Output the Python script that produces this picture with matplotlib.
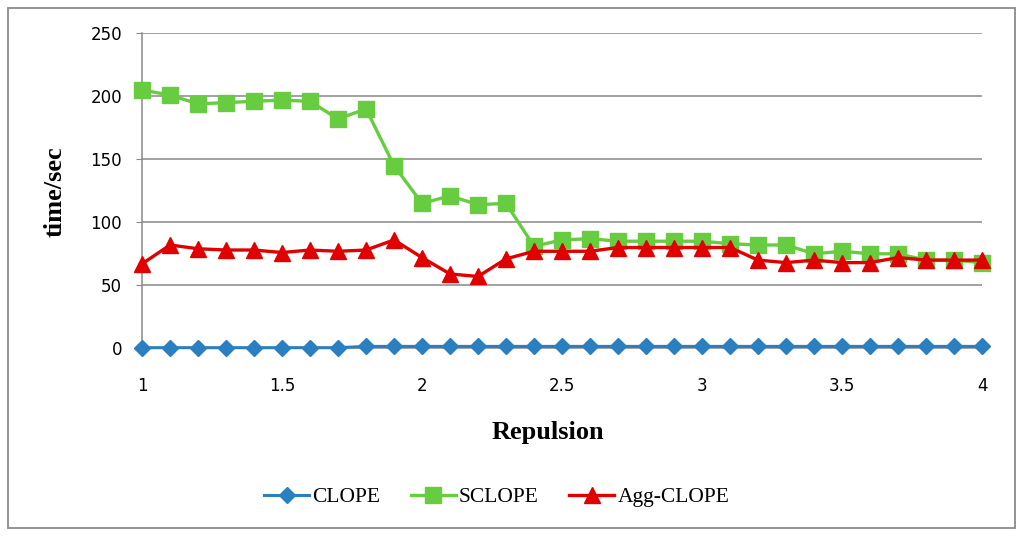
import matplotlib.pyplot as plt
from matplotlib.patches import Rectangle
import numpy as np

# repulsion values 1.0 .. 4.0 step 0.1
repulsion = [1.0, 1.1, 1.2, 1.3, 1.4, 1.5, 1.6, 1.7, 1.8, 1.9,
             2.0, 2.1, 2.2, 2.3, 2.4, 2.5, 2.6, 2.7, 2.8, 2.9,
             3.0, 3.1, 3.2, 3.3, 3.4, 3.5, 3.6, 3.7, 3.8, 3.9, 4.0]
clope = [0.5, 0.5, 0.5, 0.5, 0.5, 0.5, 0.5, 0.5, 1.5, 1.5,
         1.5, 1.5, 1.5, 1.5, 1.5, 1.5, 1.5, 1.5, 1.5, 1.5,
         1.5, 1.5, 1.5, 1.5, 1.5, 1.5, 1.5, 1.5, 1.5, 1.5, 1.5]
sclope = [205, 201, 194, 195, 196, 197, 196, 182, 190, 145,
          115, 121, 114, 115, 81, 86, 87, 85, 85, 85,
          85, 83, 82, 82, 75, 77, 75, 75, 70, 70, 68]
agg_clope = [67, 82, 79, 78, 78, 76, 78, 77, 78, 86,
             72, 59, 57, 71, 77, 77, 77, 80, 80, 80,
             80, 80, 70, 68, 70, 68, 68, 72, 70, 70, 70]

xticks = [1, 1.5, 2, 2.5, 3, 3.5, 4]
xtick_labels = ['1', '1.5', '2', '2.5', '3', '3.5', '4']
yticks = [0, 50, 100, 150, 200, 250]

fig = plt.figure(figsize=(10.24, 5.38), dpi=100)
ax = fig.add_axes([0.1387, 0.3526, 0.8203, 0.5855])

ax.plot(repulsion, clope, color='#2a7fc1', lw=2.2, marker='D', ms=8,
        label='CLOPE', clip_on=False, zorder=3)
ax.plot(repulsion, sclope, color='#68cc40', lw=2.4, marker='s', ms=12,
        label='SCLOPE', clip_on=False, zorder=3)
ax.plot(repulsion, agg_clope, color='#e00000', lw=2.4, marker='^', ms=12,
        label='Agg-CLOPE', clip_on=False, zorder=4)

ax.set_xlim(1, 4)
ax.set_ylim(0, 250)
ax.set_xticks(xticks)
ax.set_xticklabels(xtick_labels)
ax.set_yticks(yticks)
ax.grid(axis='y', color='#888888', lw=1.1)
ax.set_axisbelow(True)

for s in ['top', 'right']:
    ax.spines[s].set_visible(False)
ax.spines['left'].set_color('#888888')
ax.spines['bottom'].set_color('#888888')
ax.spines['left'].set_linewidth(1.1)
ax.spines['bottom'].set_linewidth(1.1)

ax.tick_params(axis='y', length=4.3, color='#888888', pad=10,
               labelsize=12, labelcolor='black')
ax.tick_params(axis='x', length=0, pad=21, labelsize=12)

ax.set_ylabel('time/sec', family='Liberation Serif', fontweight='bold',
              fontsize=19, va='center')
ax.yaxis.set_label_coords(-0.1036, 0.496)
ax.set_xlabel('Repulsion', family='Liberation Serif', fontweight='bold',
              fontsize=19, va='center')
ax.xaxis.set_label_coords(0.483, -0.266)

fig.legend(loc='center', bbox_to_anchor=(0.485, 0.0762), ncol=3,
           frameon=False, prop={'family': 'Liberation Serif', 'size': 15.5},
           handlelength=2.1, handletextpad=0.15, columnspacing=1.4)

# outer frame
fig.patches.append(Rectangle((8 / 1024, 1 - 528 / 538), 1007 / 1024, 520 / 538,
                             transform=fig.transFigure, fill=False,
                             edgecolor='#8a8a8a', lw=1.3))

fig.savefig('out.png', dpi=100)
